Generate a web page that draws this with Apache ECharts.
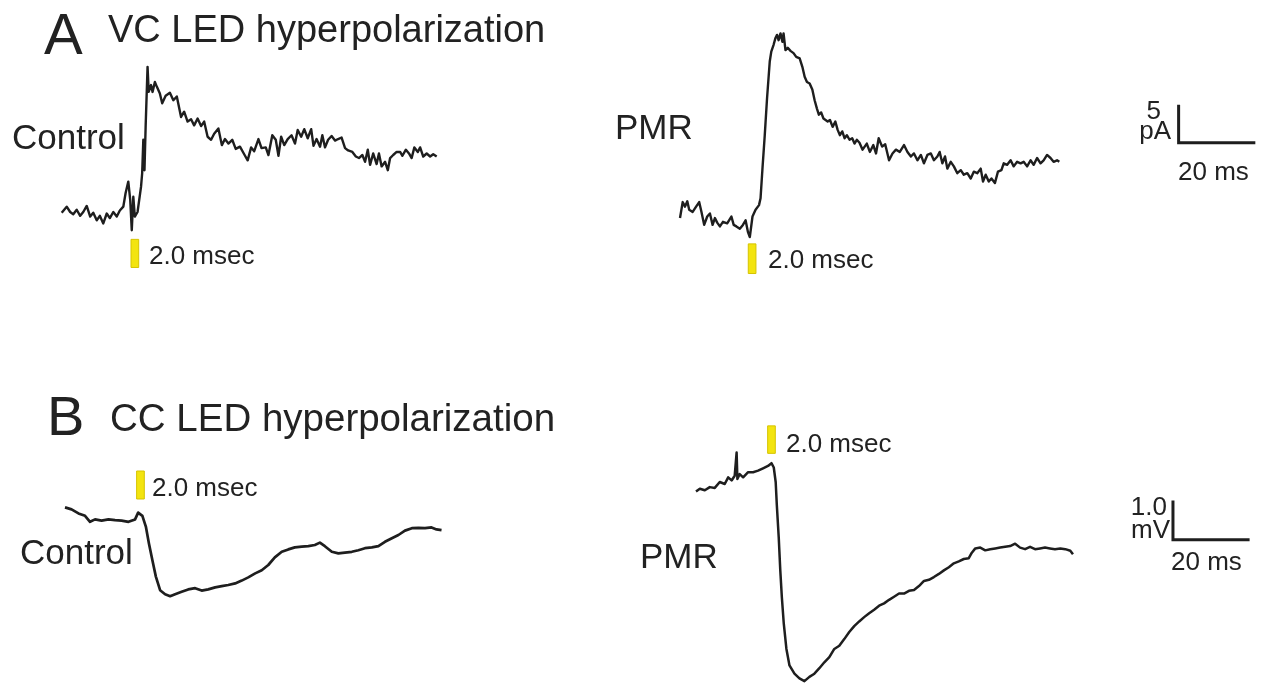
<!DOCTYPE html>
<html>
<head>
<meta charset="utf-8">
<style>
  html, body { margin: 0; padding: 0; background: #fff; }
  #chart { width: 1263px; height: 689px; }
</style>
<script src="https://cdn.jsdelivr.net/npm/echarts@6/dist/echarts.min.js"></script>
</head>
<body>
<div id="chart"></div>
<script>
// ---- data (time in ms from trace start, current in pA, voltage in mV) ----
var vcControlTime = [0,1.3,2.2,3.0,3.9,4.8,5.6,6.5,7.4,8.2,9.1,9.9,10.8,11.7,12.5,13.4,14.3,15.1,16.0,16.6,
  17.3,17.8,18.2,18.6,19.0,19.7,20.6,20.9,21.2,21.5,21.8,22.3,22.6,23.2,23.6,24.2,24.7,25.5,26.1,27.0,
  28.1,29.0,29.9,31.0,31.8,32.7,33.6,34.4,35.3,36.2,37.0,37.9,38.8,39.6,40.7,41.6,42.4,43.3,44.3,45.2,
  46.3,47.4,48.3,49.2,50.0,51.1,51.9,53.0,53.7,54.7,55.6,56.3,57.0,57.8,58.7,59.7,60.6,61.3,62.2,63.0,
  63.9,64.8,65.4,66.2,67.1,67.7,68.4,69.2,70.1,71.0,71.8,72.7,73.6,74.4,75.5,76.4,77.2,78.1,78.8,79.5,
  80.1,80.9,81.8,82.4,83.1,84.0,84.7,85.3,86.1,87.0,87.9,88.5,89.4,90.2,90.9,91.6,92.5,93.1,93.9,94.8,
  95.7,96.5,97.4];
var vcControlCurrent = [-0.1,0.7,0.0,-0.3,0.3,-0.5,0.0,0.8,-0.6,-0.1,-1.1,-0.5,-1.5,-0.2,-0.8,0.0,-0.6,0.2,0.7,2.5,
  4.0,1.6,-2.4,2.0,-0.6,0.0,3.3,5.1,9.5,5.5,11.2,19.1,15.8,16.7,15.8,17.1,16.5,15.6,14.3,15.3,
  15.7,14.7,15.2,12.5,13.2,11.9,12.2,11.4,12.3,11.3,11.9,9.9,9.5,10.3,11.0,8.8,9.6,9.0,9.5,8.3,
  8.6,7.6,6.8,8.5,8.0,9.6,8.4,8.5,7.5,10.1,9.5,7.4,9.9,8.8,9.6,10.1,9.0,10.8,9.9,10.9,
  9.7,10.9,8.7,9.6,8.6,10.1,8.5,9.5,10.0,9.4,9.6,9.8,8.4,8.1,7.9,7.3,7.1,7.5,6.6,8.2,
  6.2,7.7,6.3,7.7,6.0,6.6,5.5,7.1,7.5,7.9,7.9,7.4,8.2,7.7,7.1,8.5,7.9,8.5,7.3,7.7,
  7.3,7.6,7.3];

var vcPmrTime = [0,0.7,1.3,1.9,2.4,3.3,4.2,5.0,5.6,6.3,7.1,7.8,8.5,9.1,9.7,10.4,11.2,12.3,13.4,14.0,
  14.7,15.6,16.4,17.1,17.7,18.2,18.9,19.7,20.6,21.0,21.5,22.1,22.7,23.4,23.8,24.4,24.9,25.3,25.7,26.2,
  26.7,27.0,27.5,28.1,28.8,29.6,30.3,31.2,31.9,32.5,33.1,33.8,34.5,35.1,35.7,36.2,36.8,37.4,37.9,38.5,
  39.1,39.8,40.5,41.1,41.7,42.3,42.9,43.5,44.2,44.9,45.5,46.1,46.8,47.6,48.7,49.5,50.4,51.1,51.8,52.7,
  53.5,54.5,55.4,56.3,57.3,58.4,59.3,60.2,61.0,61.9,62.8,63.6,64.5,65.4,66.2,67.1,67.7,68.4,69.1,69.7,
  70.6,71.4,72.3,73.2,74.0,74.9,75.8,76.6,77.5,78.4,79.0,79.7,80.5,81.2,82.1,82.9,83.8,84.4,85.3,86.2,
  87.0,87.9,88.8,89.6,90.5,91.4,92.2,93.1,94.0,94.8,95.7,96.6,97.4,98.3,98.9];
var vcPmrCurrent = [-0.4,1.7,1.1,1.8,0.7,0.4,1.1,1.7,0.4,-1.3,-0.2,0.2,-1.3,-0.4,-1.0,-1.5,-0.9,-1.1,-0.2,-1.3,
  -1.5,-1.8,-1.3,-0.7,-2.2,-2.9,-0.2,0.7,1.3,2.2,6.1,10.5,15.4,20.2,21.5,22.4,23.3,23.7,23.0,23.9,
  22.8,23.9,21.7,22.0,21.6,21.3,20.8,20.6,19.5,18.2,17.5,17.3,16.5,15.1,14.0,13.2,13.5,12.7,12.9,12.3,
  12.5,11.6,12.3,11.2,10.5,11.0,10.1,10.5,9.9,10.1,9.4,9.9,9.5,8.6,9.4,8.3,9.2,8.1,10.1,9.0,
  9.3,7.2,8.1,8.6,8.3,9.2,8.3,7.7,8.1,7.2,7.9,6.8,7.9,8.1,7.2,7.7,8.3,6.8,7.7,6.1,
  7.0,6.4,5.5,5.9,5.3,5.5,4.8,5.7,5.5,6.1,4.4,5.3,4.4,4.8,4.2,5.7,5.9,6.8,6.6,7.2,
  6.4,7.0,6.8,7.0,6.4,7.2,6.6,7.5,6.8,7.2,7.9,7.5,7.0,7.2,7.0];

var ccControlTime = [0,1.7,3.5,5.2,6.5,7.8,9.5,11.3,13.0,14.7,16.5,18.2,19.0,20.1,21.0,21.8,22.7,23.6,24.7,26.0,
  27.3,28.6,30.3,32.0,33.8,35.5,37.2,39.0,40.7,42.4,44.2,45.9,47.6,49.4,51.1,52.8,54.5,56.3,58.0,59.7,
  61.5,63.2,64.9,66.2,67.5,69.3,71.0,72.7,74.5,76.2,77.9,79.7,81.4,83.1,84.9,86.6,88.3,90.1,91.8,93.5,
  95.2,96.5,97.8];
var ccControlVoltage = [0.29,0.24,0.14,0.08,-0.07,-0.01,-0.04,-0.01,-0.03,-0.04,-0.07,-0.01,0.16,0.08,-0.19,-0.61,-1.03,-1.44,-1.78,-1.88,
  -1.93,-1.88,-1.82,-1.76,-1.73,-1.79,-1.76,-1.71,-1.68,-1.65,-1.61,-1.54,-1.46,-1.36,-1.28,-1.15,-0.96,-0.82,-0.76,-0.71,
  -0.69,-0.68,-0.65,-0.59,-0.68,-0.82,-0.86,-0.84,-0.82,-0.78,-0.73,-0.71,-0.68,-0.57,-0.48,-0.40,-0.29,-0.23,-0.22,-0.23,
  -0.21,-0.26,-0.28];

var ccPmrTime = [0,1.0,2.3,3.6,4.9,6.2,7.5,8.4,9.3,10.1,10.6,10.8,11.4,12.3,13.6,14.9,16.2,17.5,18.8,19.7,
  20.3,20.8,21.1,21.6,22.0,22.4,22.9,23.6,24.4,25.7,27.0,28.3,29.6,30.9,32.2,33.5,34.8,36.1,37.4,38.7,
  40.0,41.3,42.6,43.9,45.2,46.5,47.8,49.1,50.4,51.7,53.0,54.3,55.6,56.9,58.2,59.5,60.8,62.1,63.4,64.7,
  66.0,67.3,68.6,69.9,71.2,72.0,72.9,74.2,75.5,76.8,78.1,79.4,80.7,82.0,83.3,84.6,85.9,87.2,88.5,89.8,
  91.1,92.4,93.7,95.1,96.4,97.7,98.4];
var ccPmrVoltage = [-0.57,-0.50,-0.54,-0.46,-0.48,-0.33,-0.38,-0.21,-0.29,-0.17,0.42,-0.25,-0.13,-0.21,-0.08,-0.08,-0.04,0.02,0.08,0.15,
  0.04,-0.33,-0.92,-1.75,-2.58,-3.25,-3.92,-4.58,-5.00,-5.21,-5.33,-5.40,-5.29,-5.21,-5.07,-4.92,-4.79,-4.58,-4.50,-4.33,
  -4.15,-4.00,-3.88,-3.77,-3.67,-3.58,-3.48,-3.42,-3.33,-3.25,-3.17,-3.17,-3.10,-3.08,-2.98,-2.85,-2.82,-2.75,-2.67,-2.58,
  -2.50,-2.40,-2.35,-2.29,-2.27,-2.13,-2.02,-2.00,-2.07,-2.04,-2.02,-2.00,-1.98,-1.96,-1.90,-2.00,-2.04,-1.98,-2.04,-2.02,
  -2.00,-2.02,-2.04,-2.02,-2.04,-2.08,-2.17];

// LED pulse: onset (ms) of each 2.0 ms flash, per trace
var stimOnset = [18.0, 17.8, 18.6, 18.7];
var stimDuration = 2.0;

// scale bars: 20 ms and 5 pA / 1.0 mV
var scaleTime = 20;
var scaleCurrent = 5;
var scaleVoltage = 1.0;

// ---- layout ----
var PX_MS = 3.85;   // px per ms (20 ms bar = 77 px)
var PX_PA = 7.6;    // px per pA
var PX_MV = 40;     // px per mV
var FONT = '"Liberation Sans", Arial, Helvetica, sans-serif';
var INK = '#1e1e1e';

function pairs(t, v) {
  var out = [];
  for (var i = 0; i < Math.min(t.length, v.length); i++) out.push([t[i], v[i]]);
  return out;
}

// panel: left px of t=0, px of v=0, time span, value span, px per unit
var panels = [
  { left: 61.7, zero: 212, tMax: 100, vMin: -8,   vMax: 20,   k: PX_PA },
  { left: 680,  zero: 215, tMax: 152, vMin: -8,   vMax: 24.5, k: PX_PA },
  { left: 65,   zero: 519, tMax: 100, vMin: -2.2, vMax: 1.5,  k: PX_MV },
  { left: 696,  zero: 470, tMax: 148, vMin: -5.6, vMax: 1.3,  k: PX_MV }
];

var grids = [], xAxes = [], yAxes = [];
panels.forEach(function (p, i) {
  grids.push({ left: p.left, top: p.zero - p.vMax * p.k, width: p.tMax * PX_MS, height: (p.vMax - p.vMin) * p.k });
  xAxes.push({ type: 'value', gridIndex: i, min: 0, max: p.tMax, show: false });
  yAxes.push({ type: 'value', gridIndex: i, min: p.vMin, max: p.vMax, show: false });
});

// vertical extent of each yellow LED marker (axis units of its panel)
var stimBox = [[-3.6, -7.3], [-3.8, -7.7], [1.2, 0.5], [1.1, 0.4]];

function trace(i, data, w) {
  return {
    type: 'line', xAxisIndex: i, yAxisIndex: i, data: data,
    symbol: 'none', clip: false, silent: true,
    lineStyle: { color: INK, width: w, join: 'round' },
    markArea: {
      silent: true,
      itemStyle: { color: '#f3e40f', borderColor: '#d6c400', borderWidth: 1 },
      data: [[{ coord: [stimOnset[i], stimBox[i][0]] }, { coord: [stimOnset[i] + stimDuration, stimBox[i][1]] }]]
    }
  };
}

function scaleBar(i, t0, v0, dv) {
  return {
    type: 'line', xAxisIndex: i, yAxisIndex: i, symbol: 'none', clip: false, silent: true,
    lineStyle: { color: INK, width: 3, join: 'miter', cap: 'butt' },
    data: [[t0, v0 + dv], [t0, v0], [t0 + scaleTime, v0]]
  };
}

function txt(x, y, s, size, align) {
  return {
    type: 'text', x: x, y: y, silent: true,
    style: { text: s, font: size + 'px ' + FONT, fill: '#222', textAlign: align || 'left', textVerticalAlign: 'middle' }
  };
}

var chart = echarts.init(document.getElementById('chart'), null, { renderer: 'canvas' });
chart.setOption({
  backgroundColor: '#ffffff',
  animation: false,
  grid: grids,
  xAxis: xAxes,
  yAxis: yAxes,
  series: [
    trace(0, pairs(vcControlTime, vcControlCurrent), 2.4),
    trace(1, pairs(vcPmrTime, vcPmrCurrent), 2.4),
    trace(2, pairs(ccControlTime, ccControlVoltage), 2.7),
    trace(3, pairs(ccPmrTime, ccPmrVoltage), 2.5),
    scaleBar(1, 130, 9.5, scaleCurrent),
    scaleBar(3, 124.5, -1.8, scaleVoltage)
  ],
  graphic: { elements: [
    txt(44, 38, 'A', 58),
    txt(108, 32, 'VC LED hyperpolarization', 38),
    txt(47, 420, 'B', 56),
    txt(110, 420, 'CC LED hyperpolarization', 38.5),
    txt(12, 139, 'Control', 35),
    txt(615, 129, 'PMR', 35),
    txt(20, 554, 'Control', 35),
    txt(640, 558, 'PMR', 35),
    txt(149, 257, '2.0 msec', 26),
    txt(768, 261, '2.0 msec', 26),
    txt(152, 489, '2.0 msec', 26),
    txt(786, 445, '2.0 msec', 26),
    txt(1161, 112, '5', 26, 'right'),
    txt(1171, 132, 'pA', 26, 'right'),
    txt(1178, 173, '20 ms', 26),
    txt(1167, 508, '1.0', 26, 'right'),
    txt(1170, 531, 'mV', 26, 'right'),
    txt(1171, 563, '20 ms', 26)
  ] }
});
</script>
</body>
</html>
